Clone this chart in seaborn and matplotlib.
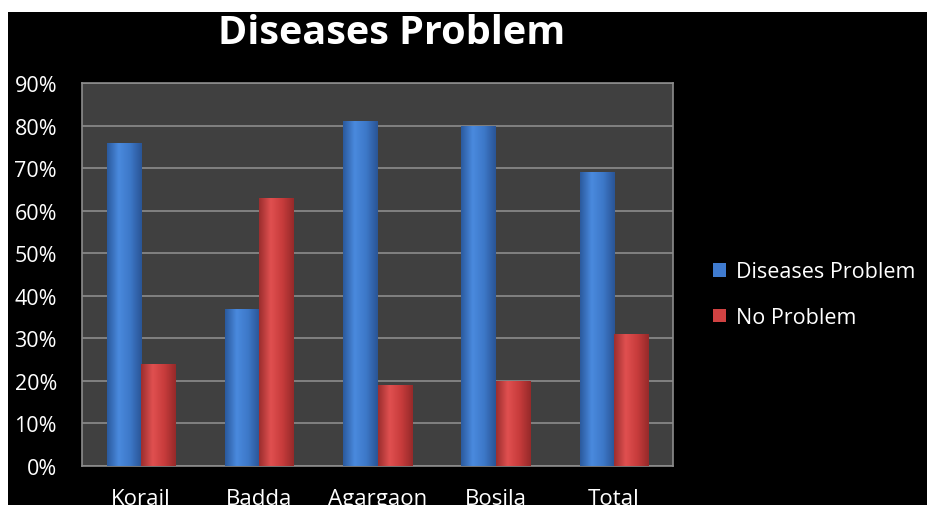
import matplotlib
matplotlib.use("Agg")
import matplotlib.pyplot as plt
from matplotlib.patches import Rectangle
from matplotlib.ticker import PercentFormatter
from matplotlib.colors import LinearSegmentedColormap, to_rgb
import numpy as np
import pandas as pd
import seaborn as sns

# Survey results by area
areas = ["Korail", "Badda", "Agargaon", "Bosila", "Total"]
diseases_problem = [0.76, 0.37, 0.81, 0.80, 0.69]
no_problem = [0.24, 0.63, 0.19, 0.20, 0.31]
series_names = ["Diseases Problem", "No Problem"]
y_ticks = [0.0, 0.1, 0.2, 0.3, 0.4, 0.5, 0.6, 0.7, 0.8, 0.9]

df = pd.DataFrame({
    "area": areas * 2,
    "value": diseases_problem + no_problem,
    "series": [series_names[0]] * len(areas) + [series_names[1]] * len(areas),
})

sns.set_theme(style="dark")
plt.rcParams["font.family"] = ["Open Sans", "DejaVu Sans"]

W, H = 927, 506
fig = plt.figure(figsize=(W / 100, H / 100), dpi=100, facecolor="white")
# black slide background with a thin white margin on top and left
fig.patches.append(Rectangle((8 / W, 0), 1, (H - 13) / H, transform=fig.transFigure,
                             facecolor="black", edgecolor="none", zorder=-10))

ax = fig.add_axes([82 / W, (H - 467) / H, (673 - 82) / W, (467 - 84) / H])
ax.set_facecolor("#404040")

palette = {series_names[0]: "#3f7bd0", series_names[1]: "#d04242"}
sns.barplot(data=df, x="area", y="value", hue="series", palette=palette,
            width=0.58, gap=0, saturation=1, ax=ax, legend=False,
            edgecolor="none", zorder=3)

# give each bar a soft cylindrical shading
shades = {
    "#3f7bd0": ["#2b5a9e", "#4a8ade", "#3d78c8", "#2a5596"],
    "#d04242": ["#9c2e2e", "#e05050", "#c83c3c", "#962a2a"],
}
for patch in ax.patches:
    fc = np.array(to_rgb(patch.get_facecolor()))
    key = min(shades, key=lambda k: np.sum((np.array(to_rgb(k)) - fc) ** 2))
    cmap = LinearSegmentedColormap.from_list("bar", shades[key])
    x0, y0 = patch.get_x(), patch.get_y()
    w, h = patch.get_width(), patch.get_height()
    grad = np.linspace(0, 1, 64).reshape(1, -1)
    im = ax.imshow(grad, cmap=cmap, aspect="auto", extent=(x0, x0 + w, y0, y0 + h),
                   zorder=4, interpolation="bicubic")
    im.set_clip_path(patch)

ax.set_xlim(-0.5, len(areas) - 0.5)
ax.set_ylim(0, 0.9)
ax.set_yticks(y_ticks)
ax.yaxis.set_major_formatter(PercentFormatter(1.0, decimals=0))
ax.grid(axis="y", color="#8c8c8c", linewidth=1.2, zorder=1)
ax.grid(axis="x", visible=False)
ax.set_axisbelow(True)
for s in ax.spines.values():
    s.set_visible(True)
    s.set_color("#8c8c8c")
    s.set_linewidth(1.2)

ax.set_xlabel("")
ax.set_ylabel("")
ax.tick_params(axis="y", colors="white", labelsize=15.5, pad=18, length=0)
ax.tick_params(axis="x", colors="white", labelsize=16, pad=16, length=0)

fig.text(392 / W, 1 - 33 / H, "Diseases Problem", color="white", fontsize=28.5,
         fontweight="bold", ha="center", va="center")

handles = [Rectangle((0, 0), 1, 1, facecolor=palette[n], edgecolor="none") for n in series_names]
leg = fig.legend(handles, series_names, loc="upper left",
                 bbox_to_anchor=(694 / W, 1 - 243 / H), frameon=False,
                 fontsize=15.5, handlelength=0.6, handleheight=0.6, handletextpad=0.45,
                 labelspacing=1.15, labelcolor="white")

fig.savefig("out.png", dpi=100, facecolor=fig.get_facecolor())
